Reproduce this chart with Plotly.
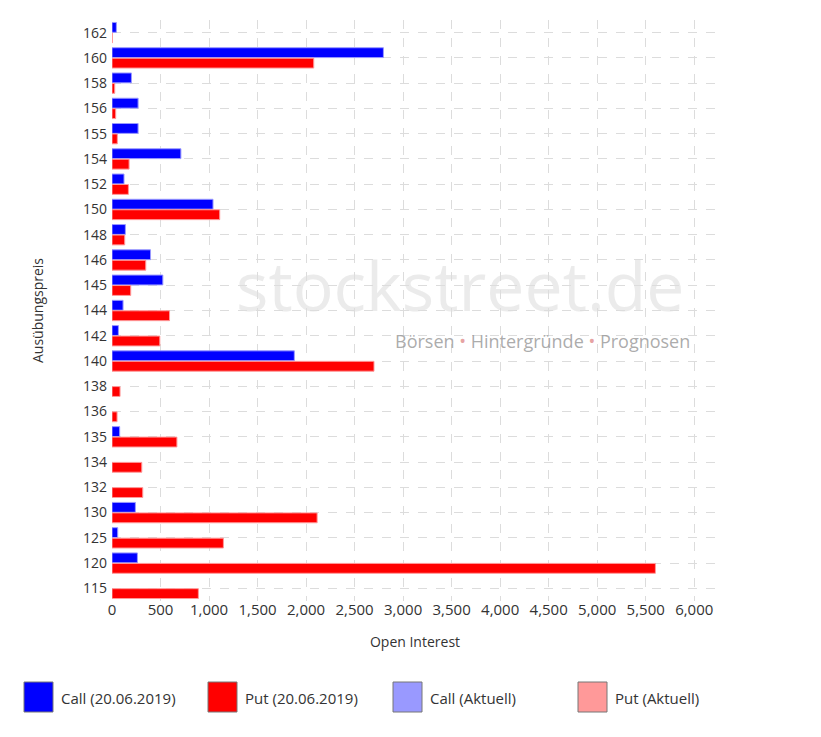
import plotly.graph_objects as go

# Ausübungspreise (oben -> unten)
strikes = ["162", "160", "158", "156", "155", "154", "152", "150", "148", "146", "145", "144",
           "142", "140", "138", "136", "135", "134", "132", "130", "125", "120", "115"]

call_oi = [45, 2797, 200, 269, 269, 710, 124, 1041, 138, 397, 524, 114,
           66, 1879, 0, 0, 79, 0, 0, 241, 59, 262, 0]
put_oi = [3, 2079, 28, 38, 55, 176, 169, 1110, 131, 348, 193, 593,
          493, 2700, 83, 52, 669, 307, 317, 2114, 1148, 5600, 890]

legend_names = ["Call (20.06.2019)", "Put (20.06.2019)", "Call (Aktuell)", "Put (Aktuell)"]
legend_colors = ["#0000ff", "#ff0000", "#9999ff", "#ff9999"]

font = "Open Sans"
text_col = "#333333"
grid_col = "#dcdcdc"

# Plotbereich im Bild: x 112..718, y 20..601 (Seite hat 8px Rand)
PL, PW, PB, PH = 112, 606, 601, 581


def px(x):
    return (x - PL) / PW


def py(y):
    return (PB - y) / PH


def edge(values):
    # kein Rand bei leeren Balken
    return [1 if v > 0 else 0 for v in values]


fig = go.Figure()
fig.add_trace(go.Bar(
    y=strikes, x=call_oi, orientation="h", name=legend_names[0],
    marker={"color": "#0000ff", "line": {"color": "#9999ff", "width": edge(call_oi)}},
))
fig.add_trace(go.Bar(
    y=strikes, x=put_oi, orientation="h", name=legend_names[1],
    marker={"color": "#ff0000", "line": {"color": "#ff9999", "width": edge(put_oi)}},
))

# eigene Legende mit grossen Kästchen
box_x = [24, 208, 393, 578]
shapes = []
annotations = []
for x0, name, col in zip(box_x, legend_names, legend_colors):
    shapes.append(dict(
        type="rect", xref="paper", yref="paper",
        x0=px(x0), x1=px(x0 + 29), y0=py(712), y1=py(682),
        fillcolor=col, line={"color": "#777777", "width": 1},
    ))
    annotations.append(dict(
        xref="paper", yref="paper", x=px(x0 + 35), y=py(698),
        text=name, showarrow=False, xanchor="left", yanchor="middle",
        font={"family": font, "size": 15, "color": text_col},
    ))

# Wasserzeichen
annotations.append(dict(
    xref="paper", yref="paper", x=px(460), y=py(284),
    text="stockstreet.de", showarrow=False, xanchor="center", yanchor="middle",
    font={"family": font, "size": 68, "color": "rgba(222,222,222,0.6)"},
))
annotations.append(dict(
    xref="paper", yref="paper", x=px(692), y=py(341),
    text="Börsen <span style='color:#e08a8a'>•</span> Hintergründe "
         "<span style='color:#e08a8a'>•</span> Prognosen",
    showarrow=False, xanchor="right", yanchor="middle",
    font={"family": font, "size": 18, "color": "rgba(150,150,150,0.8)"},
))

fig.update_layout(
    width=821, height=737,
    margin={"l": PL - 8, "r": 821 - (PL + PW - 8), "t": 12, "b": 737 - (PB - 8)},
    paper_bgcolor="white", plot_bgcolor="white",
    barmode="group", bargap=0.17, bargroupgap=0.06,
    showlegend=False,
    shapes=shapes, annotations=annotations,
    font={"family": font, "size": 14, "color": text_col},
    xaxis=dict(
        range=[0, 6245], dtick=500, tick0=0, tickformat=",d",
        showgrid=True, gridcolor=grid_col, griddash="dash", gridwidth=1,
        zeroline=False, showline=False,
        ticks="", ticklabelstandoff=-2,
        tickfont={"size": 15, "color": text_col},
        title={"text": "Open Interest", "standoff": 19, "font": {"size": 14, "color": text_col}},
    ),
    yaxis=dict(
        type="category", autorange="reversed",
        showgrid=True, gridcolor=grid_col, griddash="dash", gridwidth=1,
        zeroline=False, showline=False, ticks="", ticklabelstandoff=4,
        tickfont={"size": 14, "color": text_col},
        title={"text": "Ausübungspreis", "standoff": 36, "font": {"size": 14, "color": text_col}},
    ),
)

fig.write_html("out.html")
